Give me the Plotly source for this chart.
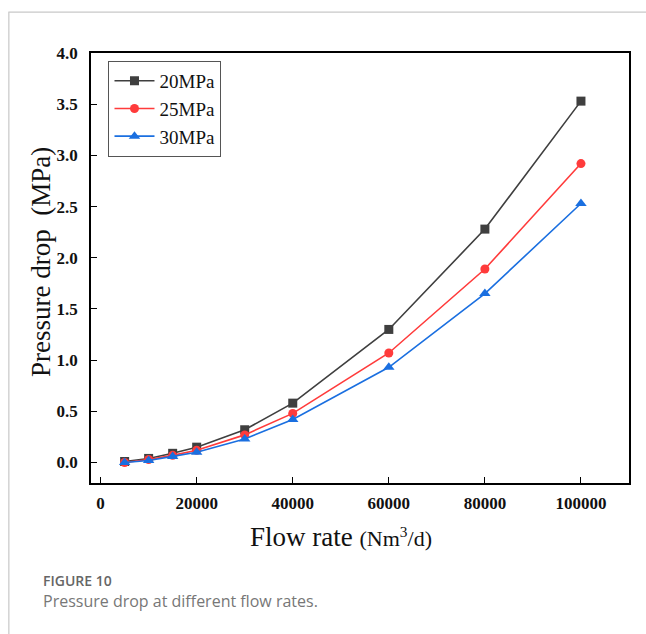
import plotly.graph_objects as go

flow = [5000, 10000, 15000, 20000, 30000, 40000, 60000, 80000, 100000]
p20 = [0.01, 0.04, 0.09, 0.15, 0.32, 0.58, 1.30, 2.28, 3.53]
p25 = [0.00, 0.03, 0.07, 0.12, 0.27, 0.48, 1.07, 1.89, 2.92]
p30 = [0.00, 0.02, 0.06, 0.10, 0.23, 0.42, 0.93, 1.65, 2.53]
names = ["20MPa", "25MPa", "30MPa"]
colors = ["#3f3f3f", "#ff3b3b", "#1a6fe0"]
symbols = ["square", "circle", "triangle-up"]

W, H = 646, 634
L, R, T, B = 90.7, 629.0, 53.3, 483.3

def px(x):
    return (x - L) / (R - L)

def py(y):
    return (B - y) / (B - T)

fig = go.Figure()
for name, vals, c, s in zip(names, [p20, p25, p30], colors, symbols):
    fig.add_trace(go.Scatter(
        x=flow, y=vals, name=name, mode="lines+markers",
        line=dict(color=c, width=1.6),
        marker=dict(symbol=s, size=9 if s != "triangle-up" else 10, color=c),
    ))

serif = "Liberation Serif, Times New Roman, serif"
axis_common = dict(
    showline=True, linecolor="black", linewidth=1.6, mirror=True,
    ticks="inside", ticklen=6, tickwidth=1.4, tickcolor="black",
    showgrid=False, zeroline=False,
    tickfont=dict(family=serif, size=17, color="#111", weight="bold"),
)
fig.update_xaxes(range=[-2000, 110000], tickvals=[0, 20000, 40000, 60000, 80000, 100000],
                 ticktext=["0", "20000", "40000", "60000", "80000", "100000"],
                 ticklabelstandoff=4, **axis_common)
fig.update_yaxes(range=[-0.2, 4.0], tickvals=[0, 0.5, 1, 1.5, 2, 2.5, 3, 3.5, 4],
                 ticktext=["0.0", "0.5", "1.0", "1.5", "2.0", "2.5", "3.0", "3.5", "4.0"],
                 ticklabelstandoff=8, **axis_common)

annotations = [
    dict(text="Flow rate <span style='font-size:22px'>(Nm<sup>3</sup>/d)</span>",
         x=px(341), y=py(537), xref="paper", yref="paper", showarrow=False,
         font=dict(family=serif, size=27, color="#111"), xanchor="center", yanchor="middle"),
    dict(text="Pressure drop  (MPa)", x=px(40), y=py(262), xref="paper", yref="paper",
         showarrow=False, textangle=-90,
         font=dict(family=serif, size=27, color="#111"), xanchor="center", yanchor="middle"),
    dict(text="FIGURE 10", x=px(41), y=py(581), xref="paper", yref="paper", showarrow=False,
         font=dict(family="Open Sans, sans-serif", size=14, color="#666", weight=600),
         xanchor="left", yanchor="middle"),
    dict(text="Pressure drop at different flow rates.", x=px(41), y=py(601), xref="paper", yref="paper",
         showarrow=False, font=dict(family="Open Sans, sans-serif", size=16, color="#777"),
         xanchor="left", yanchor="middle"),
]

shapes = [
    dict(type="line", xref="paper", yref="paper", x0=px(8), x1=px(660), y0=py(12.5), y1=py(12.5),
         line=dict(color="#c8c8c8", width=1.2)),
    dict(type="line", xref="paper", yref="paper", x0=px(8.5), x1=px(8.5), y0=py(12.5), y1=py(640),
         line=dict(color="#c8c8c8", width=1.2)),
]

fig.update_layout(
    width=W, height=H,
    margin=dict(l=L, r=W - R, t=T, b=H - B, pad=0),
    paper_bgcolor="white", plot_bgcolor="white",
    showlegend=True,
    legend=dict(x=px(108), y=py(61), xanchor="left", yanchor="top",
                bordercolor="#555", borderwidth=1.2, bgcolor="white",
                font=dict(family=serif, size=19, color="#111"),
                itemwidth=40, tracegroupgap=0),
    annotations=annotations, shapes=shapes,
)

fig.write_html("out.html")
